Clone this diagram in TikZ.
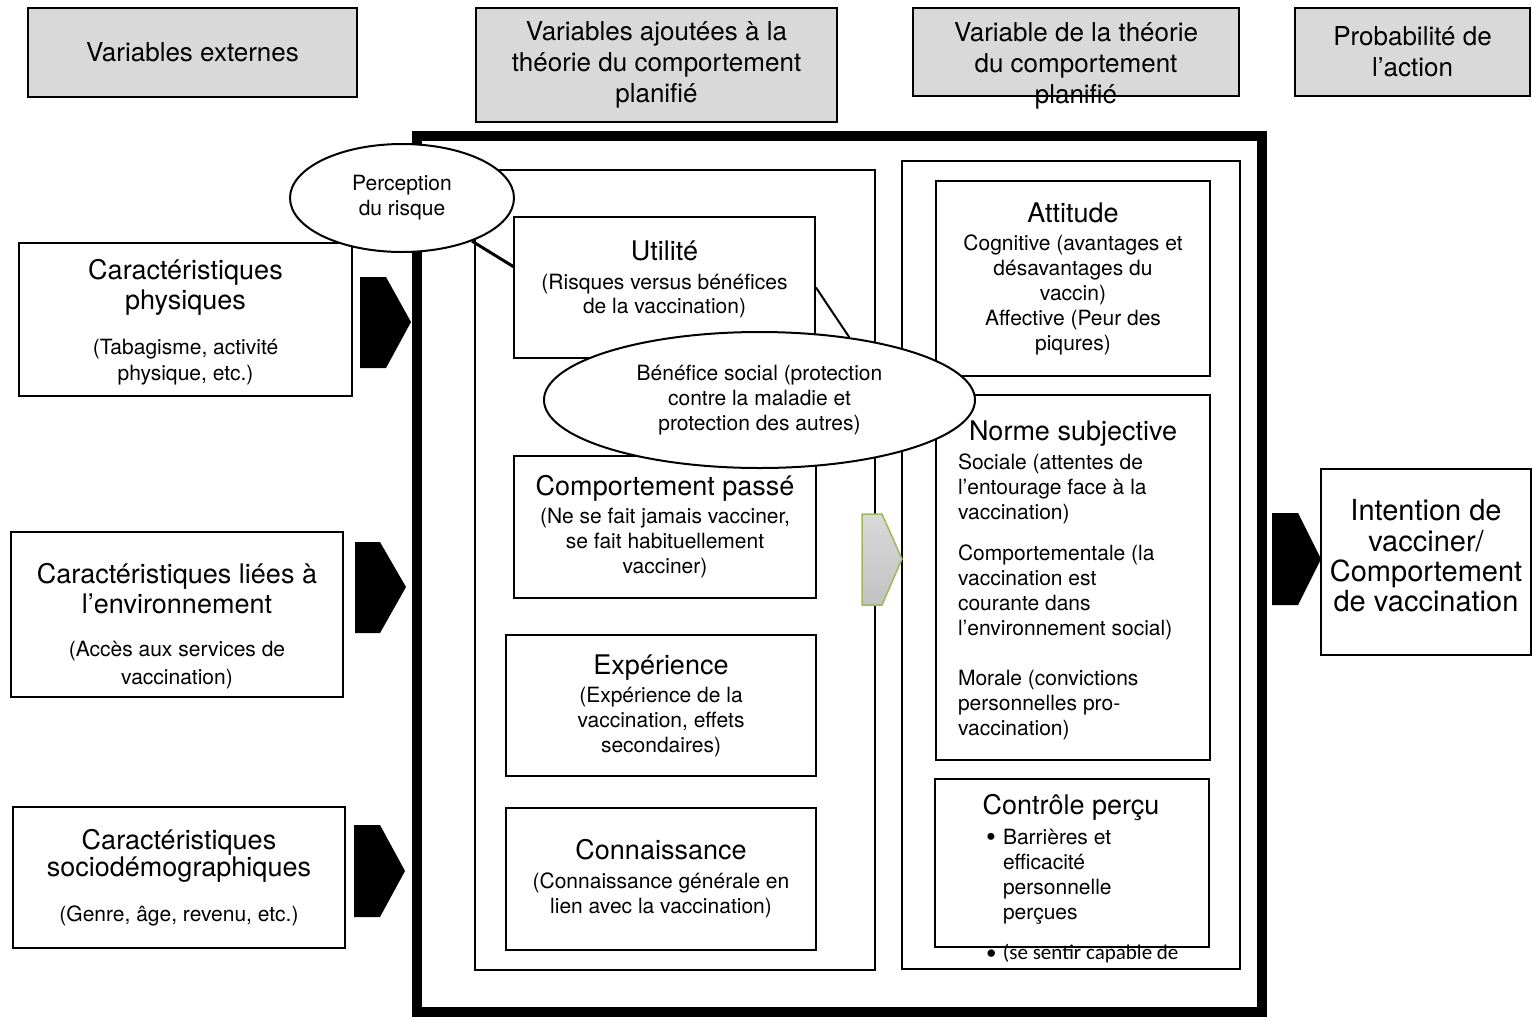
\documentclass[tikz,border=0pt]{standalone}
\usepackage{fontspec}
\setmainfont{TeX Gyre Heros}
\newfontfamily\calibrifont{Carlito}
\usetikzlibrary{shapes.geometric}

\definecolor{headgray}{HTML}{D9D9D9}
\definecolor{olivegreen}{HTML}{9BBB59}

\newcommand{\smallsize}{\fontsize{10.5}{12.5}\selectfont\lineskiplimit=-50pt\relax}
\newcommand{\headsize}{\fontsize{13}{15.5}\selectfont\lineskiplimit=-50pt\relax}
\newcommand{\intentsize}{\fontsize{14.5}{15.2}\selectfont\lineskiplimit=-50pt\relax}
\newcommand{\ttl}[1]{{\fontsize{13.5}{15}\selectfont #1}}
\newcommand{\bigbullet}{\makebox[8.5pt][l]{\raisebox{-0.7pt}{\fontsize{14}{14}\selectfont\textbullet}}}

\begin{document}
\begin{tikzpicture}[
    x=0.5pt, y=-0.5pt,
    font=\smallsize,
    headtext/.style={align=center, inner sep=0pt, font=\headsize},
    header/.style={headtext, draw, line width=1pt, fill=headgray},
    box/.style={draw, line width=1pt, inner sep=0pt, align=center},
    frame/.style={draw, line width=1pt, inner sep=0pt},
    oval/.style={ellipse, draw, line width=1pt, fill=white, inner sep=0pt, align=center},
    blockarrow/.style={fill=black},
    link/.style={line width=1.5pt}
    ]

\useasboundingbox (0,0) rectangle (1532,1019);

% Frames of the model
\node[frame, line width=5pt, minimum width=422.5pt, minimum height=438pt] (tpb) at (839.5,574) {};
\node[frame, minimum width=200pt, minimum height=400pt] (added)  at (675,570)  {};
\node[frame, minimum width=169pt, minimum height=404pt] (theory) at (1071,565) {};

% Column headers
\node[header, minimum width=164.5pt, minimum height=44.5pt] (hext) at (192.5,52.5) {Variables externes};
\node[header, minimum width=180.5pt, minimum height=57pt] (hadd) at (656.5,65) {Variables ajoutées à la\\théorie du comportement\\planifié};
\node[header, minimum width=163pt, minimum height=44pt] (htcp) at (1076,52) {};
\node[headtext] (htcptxt) at (1076,66) {Variable de la théorie\\du comportement\\planifié};
\node[header, minimum width=117.5pt, minimum height=44pt] (hprob) at (1412.5,52) {Probabilité de\\l’action};

% External variables
\node[box, minimum width=166.5pt, minimum height=76.5pt] (phys) at (185.5,319.5) {};
\node[align=center, inner sep=0pt] (phystxt) at ([yshift=-1.5pt]phys.center)
    {\ttl{Caractéristiques}\\[2.5pt]\ttl{physiques}\\[10pt](Tabagisme, activité\\[0.5pt]physique, etc.)};
\node[box, minimum width=166pt, minimum height=82.5pt] (env) at (177,614.5) {};
\node[align=center, inner sep=0pt] (envtxt) at ([yshift=-5.75pt]env.center)
    {\ttl{Caractéristiques liées à}\\[2.5pt]\ttl{l’environnement}\\[9pt](Accès aux services de\\[1.5pt]vaccination)};
\node[box, minimum width=166pt, minimum height=70.5pt] (socio) at (179,877.5)
    {\ttl{Caractéristiques}\\[1pt]\ttl{sociodémographiques}\\[10pt](Genre, âge, revenu, etc.)};

% Added variables
\node[box, minimum width=150.5pt, minimum height=70.5pt] (util) at (664.5,287.5) {};
\node[align=center, inner sep=0pt] (utiltxt) at ([yshift=4.25pt]util.center)
    {\ttl{Utilité}\\[2pt](Risques versus bénéfices\\[-0.5pt]de la vaccination)};
\node[box, minimum width=151pt, minimum height=71pt] (past) at (665,527)
    {\ttl{Comportement passé}\\[1.5pt](Ne se fait jamais vacciner,\\se fait habituellement\\vacciner)};
\node[box, minimum width=155pt, minimum height=70.5pt] (exp) at (661,705.5)
    {\ttl{Expérience}\\[1.5pt](Expérience de la\\vaccination, effets\\secondaires)};
\node[box, minimum width=155pt, minimum height=71pt] (know) at (661,879)
    {\ttl{Connaissance}\\[2pt](Connaissance générale en\\lien avec la vaccination)};

% Variables of the theory
\node[box, minimum width=137pt, minimum height=97.5pt] (att) at (1073,278.5)
    {\ttl{Attitude}\\[1.5pt]Cognitive (avantages et\\désavantages du\\vaccin)\\Affective (Peur des\\piqures)};
\node[box, minimum width=137pt, minimum height=182.5pt] (norm) at (1073,577.5) {};
\node[align=left, inner sep=0pt] (normtxt) at ([yshift=-1.5pt]norm.center)
    {\makebox[115pt]{\ttl{Norme subjective}}\\[2pt]Sociale (attentes de\\l’entourage face à la\\vaccination)\\[8pt]Comportementale (la\\vaccination est\\courante dans\\l’environnement social)\\[12.5pt]Morale (convictions\\personnelles pro-\\vaccination)};
\node[align=left, inner sep=0pt] (ctrltxt) at (1071,879)
    {\makebox[85pt]{\ttl{Contrôle perçu}}\\[2.5pt]\bigbullet Barrières et\\\hspace*{8.5pt}efficacité\\\hspace*{8.5pt}personnelle\\\hspace*{8.5pt}perçues\\[7.5pt]\makebox[8.5pt][l]{\calibrifont\textbullet}\rlap{\calibrifont (se sentir capable de}};
\node[box, minimum width=137pt, minimum height=84pt] (ctrl) at (1072,863) {};

% Outcome
\node[box, minimum width=105pt, minimum height=93pt] (intent) at (1426,562) {};
\node[align=center, inner sep=0pt, font=\intentsize] (intenttxt) at ([yshift=3pt]intent.center)
    {Intention de\\vacciner/\\Comportement\\de vaccination};

% Block arrows
\fill[blockarrow] (360,277) -- (386,277) -- (411,322) -- (386,368) -- (360,368) -- cycle;
\fill[blockarrow] (355,542) -- (380,542) -- (406,587) -- (380,633) -- (355,633) -- cycle;
\fill[blockarrow] (354,825) -- (380,825) -- (405,871) -- (380,917) -- (354,917) -- cycle;
\fill[blockarrow] (1272,513) -- (1298,513) -- (1321,559) -- (1298,605) -- (1272,605) -- cycle;
\shadedraw[top color=gray!30, bottom color=gray!48, draw=olivegreen, line width=0.75pt]
    (862,514) -- (882,514) -- (902,559) -- (882,605) -- (862,605) -- cycle;

% Ovals
\node[oval, minimum width=112pt, minimum height=54pt] (perc) at (402,198) {Perception\\du risque};
\node[oval, minimum width=215.5pt, minimum height=68pt] (benef) at (759.5,400)
    {Bénéfice social (protection\\contre la maladie et\\protection des autres)};

% Links
\coordinate (utilin) at (514,267);
\draw[link] (perc) -- (utilin);
\draw[line width=1pt] (util.east) -- (benef.35);

\end{tikzpicture}
\end{document}
